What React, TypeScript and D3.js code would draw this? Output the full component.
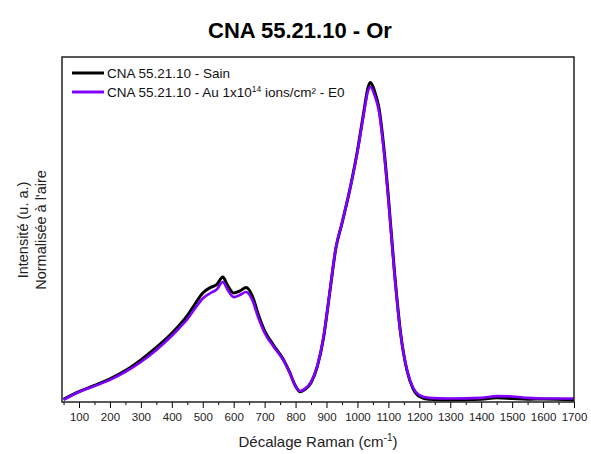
import { useEffect, useRef } from 'react';
import * as d3 from 'd3';

// Raman shift (cm-1) and normalised intensity
const shiftCm = [
  50, 100, 150, 200, 250, 300, 350, 400, 425, 450, 475, 500, 525, 545, 565, 580, 600, 620, 640, 660, 680, 700,
  730, 760, 780, 800, 815, 830, 850, 870, 890, 910, 930, 950, 975, 1000, 1020, 1035, 1042, 1055, 1070,
  1085, 1100, 1120, 1140, 1160, 1180, 1200, 1230, 1300, 1400, 1450, 1500, 1550, 1600, 1700,
];
const sain = [
  0.8, 3.0, 4.8, 6.7, 9.1, 12.2, 15.8, 19.9, 22.3, 25.0, 28.4, 31.6, 33.2, 34.0, 36.2, 33.8, 31.6, 32.2, 33.2, 30.8, 25.2, 20.6,
  16.3, 12.4, 8.8, 4.6, 3.0, 3.6, 5.6, 10.2, 18.4, 31.4, 44.4, 51.8, 61.4, 72.8, 83.8, 91.4, 92.6, 90.2, 85.0,
  74.0, 59.4, 37.4, 19.6, 9.2, 3.8, 1.6, 0.8, 0.6, 0.8, 1.2, 1.0, 0.8, 0.9, 0.6,
];
const orE0 = [
  0.6, 2.9, 4.6, 6.4, 8.7, 11.6, 15.1, 19.2, 21.5, 24.0, 27.1, 30.0, 31.6, 32.6, 34.8, 32.6, 30.4, 31.0, 31.9, 29.6, 24.3, 20.0,
  15.9, 12.2, 8.7, 4.6, 3.2, 3.8, 5.8, 10.4, 18.6, 31.6, 44.6, 51.9, 61.4, 72.5, 83.2, 90.4, 91.3, 89.0, 84.0,
  73.0, 58.6, 36.8, 19.4, 9.3, 4.1, 2.0, 1.2, 1.0, 1.2, 1.7, 1.6, 1.2, 1.0, 1.0,
];
const xTicks = [100, 200, 300, 400, 500, 600, 700, 800, 900, 1000, 1100, 1200, 1300, 1400, 1500, 1600, 1700];

const W = 591;
const H = 454;
const M = { top: 57, right: 17, bottom: 52, left: 62 };
const FONT = '"Liberation Sans", Arial, sans-serif';

export default function App() {
  const svgRef = useRef<SVGSVGElement>(null);

  useEffect(() => {
    if (!svgRef.current) return;
    const svg = d3.select(svgRef.current);
    svg.selectAll('*').remove();

    const iW = W - M.left - M.right;
    const iH = H - M.top - M.bottom;

    const x = d3.scaleLinear().domain([45, 1700]).range([0, iW]);
    const y = d3.scaleLinear().domain([0, 100]).range([iH, 0]);

    // ── Title ────────────────────────────────────────────────────────────────
    svg.append('text')
      .attr('x', 300).attr('y', 38)
      .attr('text-anchor', 'middle')
      .attr('font-family', FONT).attr('font-weight', 'bold').attr('font-size', 22)
      .attr('fill', '#000')
      .text('CNA 55.21.10 - Or');

    const root = svg.append('g').attr('transform', `translate(${M.left},${M.top})`);

    // ── X axis: major every 100, minor every 50 ───────────────────────────────
    const minor = d3.range(50, 1701, 50).filter(v => v % 100 !== 0);
    root.append('g')
      .attr('transform', `translate(0,${iH})`)
      .call(d3.axisBottom(x).tickValues(minor).tickSize(3).tickFormat(() => ''))
      .call(g => g.select('.domain').remove())
      .call(g => g.selectAll('.tick line').attr('stroke', '#000').attr('stroke-width', 1));

    root.append('g')
      .attr('transform', `translate(0,${iH})`)
      .call(d3.axisBottom(x).tickValues(xTicks).tickSize(6).tickPadding(5).tickFormat(d3.format('d')))
      .call(g => g.select('.domain').remove())
      .call(g => g.selectAll('.tick line').attr('stroke', '#000').attr('stroke-width', 1))
      .call(g => g.selectAll('.tick text')
        .attr('fill', '#222').attr('font-size', 11.5).attr('font-family', FONT));

    // ── Series ───────────────────────────────────────────────────────────────
    const line = (vals: number[]) =>
      d3.line<number>()
        .x((_, i) => x(shiftCm[i]))
        .y(d => y(d))
        .curve(d3.curveMonotoneX)(vals);

    root.append('path')
      .attr('d', line(sain))
      .attr('fill', 'none').attr('stroke', '#000').attr('stroke-width', 3);
    root.append('path')
      .attr('d', line(orE0))
      .attr('fill', 'none').attr('stroke', '#8000ff').attr('stroke-width', 2.6);

    // ── Frame ────────────────────────────────────────────────────────────────
    root.append('rect')
      .attr('width', iW).attr('height', iH)
      .attr('fill', 'none').attr('stroke', '#222').attr('stroke-width', 1.5);

    // ── Legend ───────────────────────────────────────────────────────────────
    const legend = root.append('g').attr('font-family', FONT).attr('font-size', 13.5).attr('fill', '#111');
    const rows = [
      { color: '#000', y: 16 },
      { color: '#8000ff', y: 35 },
    ];
    rows.forEach(r => {
      legend.append('line')
        .attr('x1', 10).attr('x2', 42).attr('y1', r.y).attr('y2', r.y)
        .attr('stroke', r.color).attr('stroke-width', 3);
    });
    legend.append('text').attr('x', 45).attr('y', 21).text('CNA 55.21.10 - Sain');
    const t2 = legend.append('text').attr('x', 45).attr('y', 40);
    t2.append('tspan').text('CNA 55.21.10 - Au 1x10');
    t2.append('tspan').attr('font-size', 8.5).attr('dy', -5.5).text('14');
    t2.append('tspan').attr('dy', 5.5).text(' ions/cm² - E0');

    // ── Axis titles ──────────────────────────────────────────────────────────
    const xl = svg.append('text')
      .attr('x', 318).attr('y', 447)
      .attr('text-anchor', 'middle')
      .attr('font-family', FONT).attr('font-size', 15).attr('fill', '#222');
    xl.append('tspan').text('Décalage Raman (cm');
    xl.append('tspan').attr('font-size', 10).attr('dy', -6).text('-1');
    xl.append('tspan').attr('dy', 6).text(')');

    const yl = svg.append('g')
      .attr('transform', 'translate(0,230) rotate(-90)')
      .attr('font-family', FONT).attr('font-size', 14.5).attr('fill', '#222')
      .attr('text-anchor', 'middle');
    yl.append('text').attr('x', 0).attr('y', 28).text('Intensité (u. a.)');
    yl.append('text').attr('x', 0).attr('y', 46).text("Normalisée à l'aire");
  }, []);

  return (
    <svg ref={svgRef} width={W} height={H}
      style={{ position: 'absolute', left: 0, top: 0, background: '#fff' }} />
  );
}
